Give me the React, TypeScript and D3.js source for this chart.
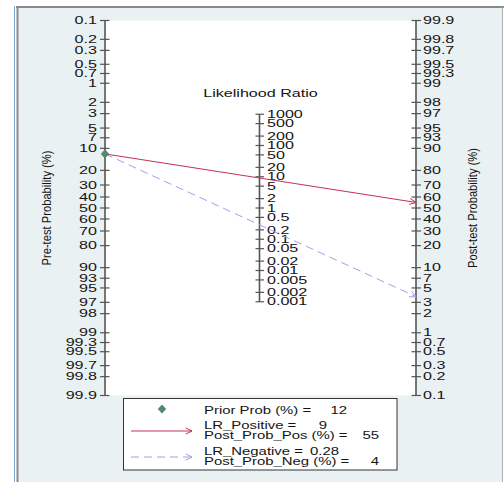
import React from 'react'
import * as d3 from 'd3'

// values
const probTicks = [0.1, 0.2, 0.3, 0.5, 0.7, 1, 2, 3, 5, 7, 10, 20, 30, 40, 50, 60, 70, 80, 90, 93, 95, 97, 98, 99, 99.3, 99.5, 99.7, 99.8, 99.9]
const lrTicks = [1000, 500, 200, 100, 50, 20, 10, 5, 2, 1, 0.5, 0.2, 0.1, 0.05, 0.02, 0.01, 0.005, 0.002, 0.001]
const priorProb = 12
const lrPositive = 9
const lrNegative = 0.28

const W = 504
const H = 482
const xLeft = 105
const xRight = 416
const xMid = 259.5
const yTop = 20.5
const yBottom = 395.5

const logit = (p: number) => Math.log(p / (1 - p))
const postProb = (pre: number, lr: number) => {
  const odds = (pre / (100 - pre)) * lr
  return (100 * odds) / (1 + odds)
}

const yLogit = d3.scaleLinear().domain([logit(0.001), logit(0.999)]).range([yTop, yBottom])
const yPre = (p: number) => yLogit(logit(p / 100))
const yPost = (p: number) => yLogit(-logit(p / 100))
const yLR = d3.scaleLog().domain([0.001, 1000]).range([yLogit(-Math.log(0.001) / 2), yLogit(-Math.log(1000) / 2)])

const textColor = '#141414'
const axisColor = '#555'
const fontFam = '"Liberation Sans", Arial, sans-serif'
const tickFs = 10.2
const tickSx = 1.58

function Label({ x, y, text, anchor = 'start', fs = tickFs, sx = tickSx }: any) {
  return (
    <text transform={`translate(${x},${y}) scale(${sx},1)`} textAnchor={anchor}
      fontSize={fs} fontFamily={fontFam} fill={textColor}>{text}</text>
  )
}

function Arrow({ x1, y1, x2, y2, color, dash }: any) {
  const a = Math.atan2(y2 - y1, x2 - x1)
  const len = 7
  const spread = 0.45
  const p1 = [x2 - len * Math.cos(a - spread), y2 - len * Math.sin(a - spread)]
  const p2 = [x2 - len * Math.cos(a + spread), y2 - len * Math.sin(a + spread)]
  return (
    <g stroke={color} strokeWidth={1} fill="none">
      <line x1={x1} y1={y1} x2={x2} y2={y2} strokeDasharray={dash} />
      <path d={`M${p1[0]},${p1[1]}L${x2},${y2}L${p2[0]},${p2[1]}`} />
    </g>
  )
}

export default function App() {
  const posPost = postProb(priorProb, lrPositive)
  const negPost = postProb(priorProb, lrNegative)
  const posColor = '#c83052'
  const negColor = '#a0a0e6'
  const diamond = d3.symbol().type(d3.symbolDiamond).size(24)()

  return (
    <svg width={W} height={H} style={{ position: 'absolute', left: 0, top: 0 }}>
      <rect x={0} y={0} width={W} height={H} fill="#fff" />
      {/* graph region */}
      <rect x={18} y={7} width={W - 19} height={H} fill="#eaf1f3" />
      <line x1={14.5} y1={6} x2={14.5} y2={H} stroke="#7aa6d6" strokeWidth={1} />
      <line x1={17.5} y1={7} x2={17.5} y2={H} stroke="#8a8a8a" strokeWidth={2} />
      <line x1={16} y1={7} x2={W} y2={7} stroke="#8a8a8a" strokeWidth={2} />
      <line x1={502.5} y1={7} x2={502.5} y2={H} stroke="#b0b0b0" strokeWidth={1} />
      {/* plot region */}
      <rect x={xLeft} y={yTop} width={xRight - xLeft} height={yBottom - yTop} fill="#fff" />

      {/* left axis */}
      <line x1={xLeft} y1={yTop} x2={xLeft} y2={yBottom} stroke={axisColor} strokeWidth={1.6} />
      {probTicks.map(t => (
        <g key={'l' + t}>
          <line x1={xLeft - 5} x2={xLeft + 4.5} y1={yPre(t)} y2={yPre(t)} stroke={axisColor} strokeWidth={1.2} />
          <Label x={97} y={yPre(t) + 3.7} text={String(t)} anchor="end" />
        </g>
      ))}
      {/* right axis */}
      <line x1={xRight} y1={yTop} x2={xRight} y2={yBottom} stroke={axisColor} strokeWidth={1.6} />
      {probTicks.map(t => (
        <g key={'r' + t}>
          <line x1={xRight - 4.5} x2={xRight + 5} y1={yPost(t)} y2={yPost(t)} stroke={axisColor} strokeWidth={1.2} />
          <Label x={423} y={yPost(t) + 3.7} text={String(t)} />
        </g>
      ))}
      {/* likelihood ratio axis */}
      <line x1={xMid} y1={yLR(1000)} x2={xMid} y2={yLR(0.001)} stroke={axisColor} strokeWidth={1.6} />
      {lrTicks.map(t => (
        <g key={'m' + t}>
          <line x1={xMid - 4} x2={xMid + 4.5} y1={yLR(t)} y2={yLR(t)} stroke={axisColor} strokeWidth={1.2} />
          <Label x={267} y={yLR(t) + 3.7} text={String(t)} />
        </g>
      ))}
      <Label x={260.5} y={97.3} text="Likelihood Ratio" anchor="middle" />

      {/* axis titles */}
      <text transform={`translate(51,208) rotate(-90) scale(1,1.2)`} textAnchor="middle"
        fontSize={11.2} fontFamily={fontFam} fill={textColor}>Pre-test Probability (%)</text>
      <text transform={`translate(477,208) rotate(-90) scale(1,1.2)`} textAnchor="middle"
        fontSize={11.2} fontFamily={fontFam} fill={textColor}>Post-test Probability (%)</text>

      {/* nomogram lines */}
      <Arrow x1={xLeft} y1={yPre(priorProb)} x2={xRight} y2={yPost(posPost)} color={posColor} />
      <Arrow x1={xLeft} y1={yPre(priorProb)} x2={xRight} y2={yPost(negPost)} color={negColor} dash="8,5" />
      <path d={diamond!} transform={`translate(${xLeft},${yPre(priorProb)}) scale(1.6,1)`} fill="#4f8a6c" />

      {/* legend */}
      <rect x={123.5} y={398.5} width={273.5} height={71.5} fill="#fff" stroke="#333" strokeWidth={1} />
      <path d={diamond!} transform="translate(162,409) scale(1.6,1)" fill="#4f8a6c" />
      <Label x={204} y={413.5} text="Prior Prob (%) =" fs={10.5} sx={1.42} />
      <Label x={347} y={413.5} text={String(priorProb)} anchor="end" fs={10.5} sx={1.42} />
      <Arrow x1={131} y1={431} x2={192} y2={431} color={posColor} />
      <Label x={204} y={429} text="LR_Positive =" fs={10.5} sx={1.42} />
      <Label x={327} y={429} text={String(lrPositive)} anchor="end" fs={10.5} sx={1.42} />
      <Label x={204} y={438.5} text="Post_Prob_Pos (%) =" fs={10.5} sx={1.42} />
      <Label x={379} y={438.5} text={String(Math.round(posPost))} anchor="end" fs={10.5} sx={1.42} />
      <Arrow x1={131} y1={457} x2={192} y2={457} color={negColor} dash="8,5" />
      <Label x={204} y={455} text="LR_Negative =" fs={10.5} sx={1.42} />
      <Label x={339} y={455} text={String(lrNegative)} anchor="end" fs={10.5} sx={1.42} />
      <Label x={204} y={464.5} text="Post_Prob_Neg (%) =" fs={10.5} sx={1.42} />
      <Label x={379} y={464.5} text={String(Math.round(negPost))} anchor="end" fs={10.5} sx={1.42} />
    </svg>
  )
}
